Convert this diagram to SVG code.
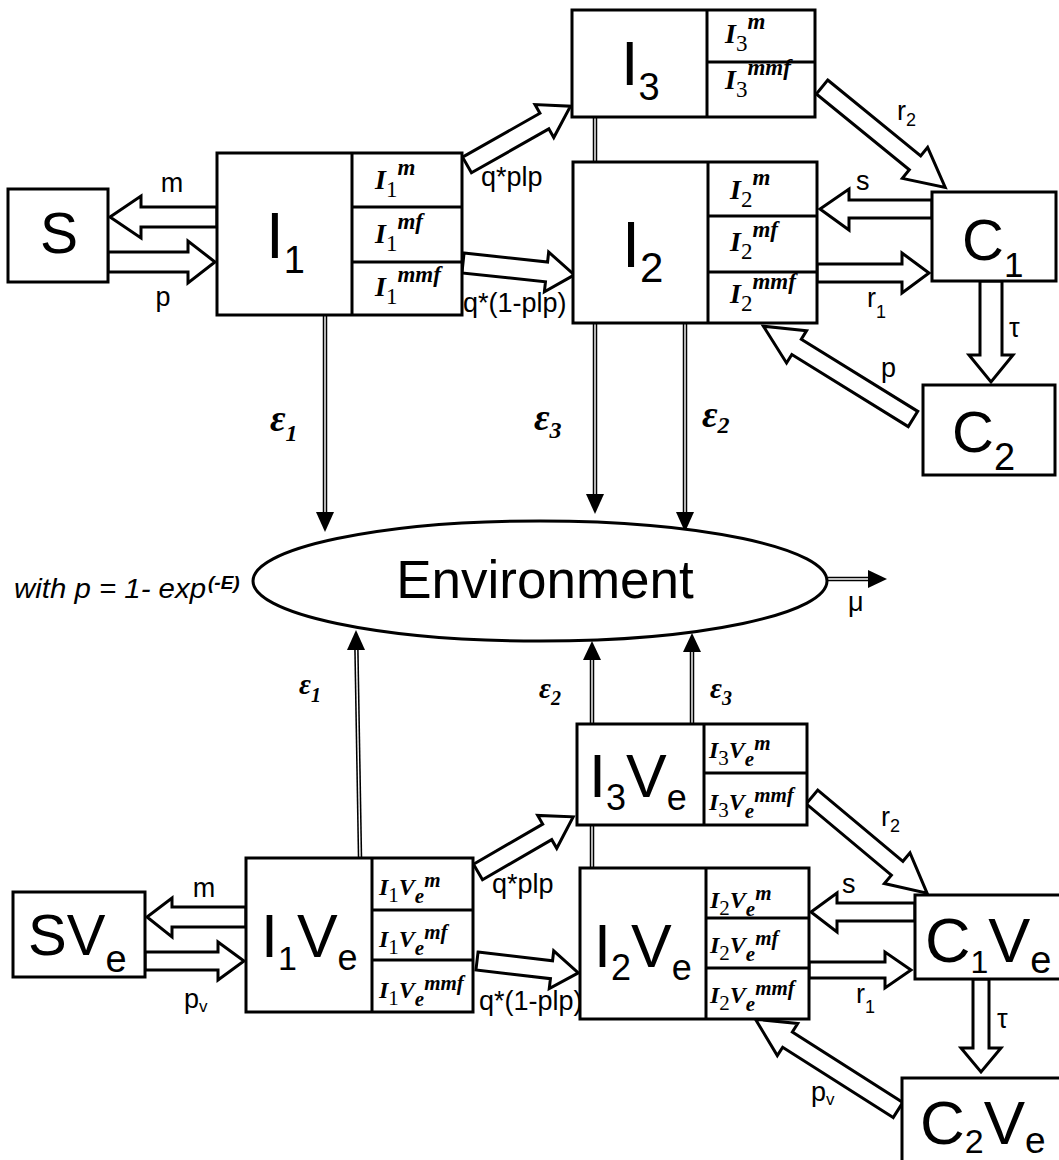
<svg xmlns="http://www.w3.org/2000/svg" width="1059" height="1160" viewBox="0 0 1059 1160">
<style>
.box{fill:#fff;stroke:#000;stroke-width:3}
.ln{stroke:#000;stroke-width:3;fill:none}
.ha{fill:#fff;stroke:#000;stroke-width:3;stroke-linejoin:miter}
.dl{stroke:#000;stroke-width:4.5}
.dw{stroke:#fff;stroke-width:1.4}
.hd{fill:#000}
.big{font-family:"Liberation Sans",Arial,sans-serif;fill:#000}
.lb{font-family:"Liberation Sans",Arial,sans-serif;font-size:27px;fill:#000}
.bi{font-family:"Liberation Serif","Times New Roman",serif;font-weight:bold;font-style:italic}
.rs{font-family:"Liberation Serif","Times New Roman",serif;font-weight:normal;font-style:normal}
.eps{font-family:"Liberation Serif","Times New Roman",serif;font-weight:bold;font-style:italic;fill:#000}
.tb{font-size:28px}
.ts{font-size:23px}
.tp{font-size:23px}
.bb{font-size:24px}
.bs{font-size:21px}
</style>
<rect x="0" y="0" width="1059" height="1160" fill="#fff"/>

<g id="connectors">
  <polygon class="ha" points="217,207 141,207 141,196 110,217 141,238 141,227 217,227"/>
  <polygon class="ha" points="108,252 188,252 188,241 215,262 188,283 188,272 108,272"/>
  <polygon class="ha" transform="translate(467,165) rotate(-29.6)" points="0,-9 89,-9 89,-19 119,0 89,19 89,9 0,9"/>
  <polygon class="ha" transform="translate(463,263) rotate(6.1)" points="0,-10 84,-10 84,-20 112,0 84,20 84,10 0,10"/>
  <polygon class="ha" transform="translate(822,87) rotate(39.2)" points="0,-9 120,-9 120,-20 159,0 120,20 120,9 0,9"/>
  <polygon class="ha" points="932,200 849,200 849,189 820,209 849,230 849,218 932,218"/>
  <polygon class="ha" points="817,264 902,264 902,253 929,273 902,293 902,282 817,282"/>
  <polygon class="ha" points="980,281 980,355 969,355 991,382 1013,355 1002,355 1002,281"/>
  <polygon class="ha" transform="translate(913,419) rotate(211.8)" points="0,-9 137,-9 137,-19 176,0 137,19 137,9 0,9"/>
  <polygon class="ha" points="246,907 172,907 172,898 147,917 172,937 172,927 246,927"/>
  <polygon class="ha" points="145,952 218,952 218,942 244,961 218,980 218,970 145,970"/>
  <polygon class="ha" transform="translate(478,872) rotate(-30.1)" points="0,-9 80,-9 80,-19 110,0 80,19 80,9 0,9"/>
  <polygon class="ha" transform="translate(477,961) rotate(6.7)" points="0,-9 75,-9 75,-19 102,0 75,19 75,9 0,9"/>
  <polygon class="ha" transform="translate(812,797) rotate(39.9)" points="0,-9 111,-9 111,-20 150,0 111,20 111,9 0,9"/>
  <polygon class="ha" points="915,903 837,903 837,893 811,912 837,932 837,921 915,921"/>
  <polygon class="ha" points="809,962 885,962 885,952 911,970 885,988 885,978 809,978"/>
  <polygon class="ha" points="973,979 973,1048 961,1048 981,1072 1001,1048 989,1048 989,979"/>
  <polygon class="ha" transform="translate(898,1110) rotate(212.5)" points="0,-9 131,-9 131,-19 169,0 131,19 131,9 0,9"/>
  <line class="dl" x1="325" y1="316" x2="325" y2="514"/><line class="dw" x1="325" y1="316" x2="325" y2="514"/>
  <polygon class="hd" points="316,512 334,512 325,532"/>
  <line class="dl" x1="595" y1="324" x2="595" y2="496"/><line class="dw" x1="595" y1="324" x2="595" y2="496"/>
  <polygon class="hd" points="586,494 604,494 595,514"/>
  <line class="dl" x1="685" y1="324" x2="685" y2="514"/><line class="dw" x1="685" y1="324" x2="685" y2="514"/>
  <polygon class="hd" points="676,512 694,512 685,532"/>
  <line class="dl" x1="595" y1="117" x2="595" y2="162"/><line class="dw" x1="595" y1="117" x2="595" y2="162"/>
  <line class="dl" x1="828" y1="579" x2="870" y2="579"/><line class="dw" x1="828" y1="579" x2="870" y2="579"/>
  <polygon class="hd" points="868,570 868,588 887,579"/>
  <line class="dl" x1="360" y1="857" x2="356.4" y2="648"/><line class="dw" x1="360" y1="857" x2="356.4" y2="648"/>
  <polygon class="hd" points="347,650 365,650 356,630"/>
  <line class="dl" x1="592" y1="724" x2="592" y2="658"/><line class="dw" x1="592" y1="724" x2="592" y2="658"/>
  <polygon class="hd" points="583,660 601,660 592,641"/>
  <line class="dl" x1="692" y1="724" x2="692" y2="650"/><line class="dw" x1="692" y1="724" x2="692" y2="650"/>
  <polygon class="hd" points="683,652 701,652 692,633"/>
  <line class="dl" x1="592" y1="825" x2="592" y2="868"/><line class="dw" x1="592" y1="825" x2="592" y2="868"/>
  <text class="lb" x="172" y="192" text-anchor="middle">m</text>
  <text class="lb" x="163" y="306" text-anchor="middle">p</text>
  <text class="lb" x="481" y="186">q*plp</text>
  <text class="lb" x="463" y="312">q*(1-plp)</text>
  <text class="lb" x="897" y="120">r<tspan font-size="18" dy="6">2</tspan></text>
  <text class="lb" x="856" y="190">s</text>
  <text class="lb" x="867" y="307">r<tspan font-size="18" dy="11">1</tspan></text>
  <text class="lb" x="1009" y="337">τ</text>
  <text class="lb" x="881" y="377">p</text>
  <text class="lb" x="848" y="611" font-size="22">μ</text>
  <text class="eps" x="270" y="431" font-size="38">ε<tspan font-size="24" dy="10">1</tspan></text>
  <text class="eps" x="534" y="430" font-size="38">ε<tspan font-size="24" dy="8">3</tspan></text>
  <text class="eps" x="702" y="427" font-size="38">ε<tspan font-size="24" dy="6">2</tspan></text>
  <text class="lb" x="204" y="897" text-anchor="middle">m</text>
  <text class="lb" x="184" y="1008">p<tspan font-size="17" dy="4">v</tspan></text>
  <text class="lb" x="492" y="893">q*plp</text>
  <text class="lb" x="479" y="1010">q*(1-plp)</text>
  <text class="lb" x="881" y="826">r<tspan font-size="18" dy="6">2</tspan></text>
  <text class="lb" x="842" y="893">s</text>
  <text class="lb" x="856" y="1003">r<tspan font-size="18" dy="10">1</tspan></text>
  <text class="lb" x="997" y="1028">τ</text>
  <text class="lb" x="811" y="1101">p<tspan font-size="17" dy="4">v</tspan></text>
  <text class="eps" x="299" y="694" font-size="29">ε<tspan font-size="20" dy="8">1</tspan></text>
  <text class="eps" x="539" y="698" font-size="29">ε<tspan font-size="20" dy="7">2</tspan></text>
  <text class="eps" x="710" y="698" font-size="29">ε<tspan font-size="20" dy="7">3</tspan></text>
</g>

<g id="S">
  <rect class="box" x="8" y="189" width="100" height="93"/>
  <text class="big" x="59" y="253" font-size="57" text-anchor="middle">S</text>
</g>

<g id="I1">
  <rect class="box" x="217" y="153" width="245" height="162"/>
  <line class="ln" x1="352" y1="153" x2="352" y2="315"/>
  <line class="ln" x1="352" y1="207" x2="462" y2="207"/>
  <line class="ln" x1="352" y1="262" x2="462" y2="262"/>
  <text class="big" x="266" y="258" font-size="64">I<tspan font-size="38" dy="15">1</tspan></text>
  <text x="375" y="189"><tspan class="bi tb">I</tspan><tspan class="rs ts" dy="8">1</tspan><tspan class="bi tp" dy="-22">m</tspan></text>
  <text x="375" y="243"><tspan class="bi tb">I</tspan><tspan class="rs ts" dy="8">1</tspan><tspan class="bi tp" dy="-22">mf</tspan></text>
  <text x="375" y="296"><tspan class="bi tb">I</tspan><tspan class="rs ts" dy="8">1</tspan><tspan class="bi tp" dy="-22">mmf</tspan></text>
</g>

<g id="I3">
  <rect class="box" x="572" y="10" width="243" height="107"/>
  <line class="ln" x1="707" y1="10" x2="707" y2="117"/>
  <line class="ln" x1="707" y1="62" x2="815" y2="62"/>
  <text class="big" x="621" y="85" font-size="63">I<tspan font-size="38" dy="15">3</tspan></text>
  <text x="725" y="43"><tspan class="bi tb">I</tspan><tspan class="rs ts" dy="8">3</tspan><tspan class="bi tp" dy="-22">m</tspan></text>
  <text x="725" y="89"><tspan class="bi tb">I</tspan><tspan class="rs ts" dy="8">3</tspan><tspan class="bi tp" dy="-22">mmf</tspan></text>
</g>

<g id="I2">
  <rect class="box" x="573" y="162" width="244" height="161"/>
  <line class="ln" x1="708" y1="162" x2="708" y2="323"/>
  <line class="ln" x1="708" y1="216" x2="817" y2="216"/>
  <line class="ln" x1="708" y1="272" x2="817" y2="272"/>
  <text class="big" x="622" y="267" font-size="65">I<tspan font-size="42" dy="15">2</tspan></text>
  <text x="730" y="199"><tspan class="bi tb">I</tspan><tspan class="rs ts" dy="8">2</tspan><tspan class="bi tp" dy="-22">m</tspan></text>
  <text x="730" y="251"><tspan class="bi tb">I</tspan><tspan class="rs ts" dy="8">2</tspan><tspan class="bi tp" dy="-22">mf</tspan></text>
  <text x="730" y="303"><tspan class="bi tb">I</tspan><tspan class="rs ts" dy="8">2</tspan><tspan class="bi tp" dy="-22">mmf</tspan></text>
</g>

<g id="C1">
  <rect class="box" x="932" y="192" width="124" height="89"/>
  <text class="big" x="962" y="260" font-size="58">C<tspan font-size="35" dy="17">1</tspan></text>
</g>

<g id="C2">
  <rect class="box" x="923" y="385" width="132" height="90"/>
  <text class="big" x="952" y="452" font-size="58">C<tspan font-size="38" dy="18">2</tspan></text>
</g>

<g id="Environment">
  <ellipse class="box" cx="540" cy="581" rx="287" ry="60"/>
  <text class="big" x="545" y="598" font-size="53" text-anchor="middle">Environment</text>
</g>

<g id="note">
  <text class="big" x="14" y="598" font-size="27" font-style="italic" textLength="192" lengthAdjust="spacingAndGlyphs">with p = 1- exp</text>
  <text class="big" x="208" y="589" font-size="19" font-style="italic" font-weight="bold">(-E)</text>
</g>

<g id="SVe">
  <rect class="box" x="13" y="892" width="132" height="85"/>
  <text class="big" x="28" y="955" font-size="58">SV<tspan font-size="38" dy="17">e</tspan></text>
</g>

<g id="I1Ve">
  <rect class="box" x="246" y="858" width="227" height="154"/>
  <line class="ln" x1="372" y1="858" x2="372" y2="1012"/>
  <line class="ln" x1="372" y1="910" x2="473" y2="910"/>
  <line class="ln" x1="372" y1="960" x2="473" y2="960"/>
  <text class="big" x="261" y="957" font-size="61">I<tspan font-size="34" dy="13">1</tspan><tspan dy="-13">V</tspan><tspan font-size="36" dy="13">e</tspan></text>
  <text x="379" y="895"><tspan class="bi bb">I</tspan><tspan class="rs bs" dy="7">1</tspan><tspan class="bi bb" dy="-7">V</tspan><tspan class="bi bs" dy="8">e</tspan><tspan class="bi bs" dy="-16">m</tspan></text>
  <text x="379" y="947"><tspan class="bi bb">I</tspan><tspan class="rs bs" dy="7">1</tspan><tspan class="bi bb" dy="-7">V</tspan><tspan class="bi bs" dy="8">e</tspan><tspan class="bi bs" dy="-16">mf</tspan></text>
  <text x="379" y="998"><tspan class="bi bb">I</tspan><tspan class="rs bs" dy="7">1</tspan><tspan class="bi bb" dy="-7">V</tspan><tspan class="bi bs" dy="8">e</tspan><tspan class="bi bs" dy="-16">mmf</tspan></text>
</g>

<g id="I3Ve">
  <rect class="box" x="577" y="724" width="230" height="101"/>
  <line class="ln" x1="704" y1="724" x2="704" y2="825"/>
  <line class="ln" x1="704" y1="773" x2="807" y2="773"/>
  <text class="big" x="589" y="797" font-size="61">I<tspan font-size="36" dy="13">3</tspan><tspan dy="-13">V</tspan><tspan font-size="36" dy="13">e</tspan></text>
  <text x="709" y="758"><tspan class="bi bb">I</tspan><tspan class="rs bs" dy="7">3</tspan><tspan class="bi bb" dy="-7">V</tspan><tspan class="bi bs" dy="8">e</tspan><tspan class="bi bs" dy="-16">m</tspan></text>
  <text x="709" y="810"><tspan class="bi bb">I</tspan><tspan class="rs bs" dy="7">3</tspan><tspan class="bi bb" dy="-7">V</tspan><tspan class="bi bs" dy="8">e</tspan><tspan class="bi bs" dy="-16">mmf</tspan></text>
</g>

<g id="I2Ve">
  <rect class="box" x="580" y="868" width="229" height="151"/>
  <line class="ln" x1="706" y1="868" x2="706" y2="1019"/>
  <line class="ln" x1="706" y1="918" x2="809" y2="918"/>
  <line class="ln" x1="706" y1="968" x2="809" y2="968"/>
  <text class="big" x="594" y="967" font-size="61">I<tspan font-size="36" dy="13">2</tspan><tspan dy="-13">V</tspan><tspan font-size="36" dy="13">e</tspan></text>
  <text x="710" y="908"><tspan class="bi bb">I</tspan><tspan class="rs bs" dy="7">2</tspan><tspan class="bi bb" dy="-7">V</tspan><tspan class="bi bs" dy="8">e</tspan><tspan class="bi bs" dy="-16">m</tspan></text>
  <text x="710" y="953"><tspan class="bi bb">I</tspan><tspan class="rs bs" dy="7">2</tspan><tspan class="bi bb" dy="-7">V</tspan><tspan class="bi bs" dy="8">e</tspan><tspan class="bi bs" dy="-16">mf</tspan></text>
  <text x="710" y="1003"><tspan class="bi bb">I</tspan><tspan class="rs bs" dy="7">2</tspan><tspan class="bi bb" dy="-7">V</tspan><tspan class="bi bs" dy="8">e</tspan><tspan class="bi bs" dy="-16">mmf</tspan></text>
</g>

<g id="C1Ve">
  <rect class="box" x="915" y="895" width="160" height="84"/>
  <text class="big" x="925" y="962" font-size="63">C<tspan font-size="32" dy="11">1</tspan><tspan dy="-11">V</tspan><tspan font-size="38" dy="11">e</tspan></text>
</g>

<g id="C2Ve">
  <rect class="box" x="902" y="1078" width="170" height="100"/>
  <text class="big" x="920" y="1144" font-size="62">C<tspan font-size="34" dy="9">2</tspan><tspan dy="-9">V</tspan><tspan font-size="37" dy="9">e</tspan></text>
</g>
</svg>
